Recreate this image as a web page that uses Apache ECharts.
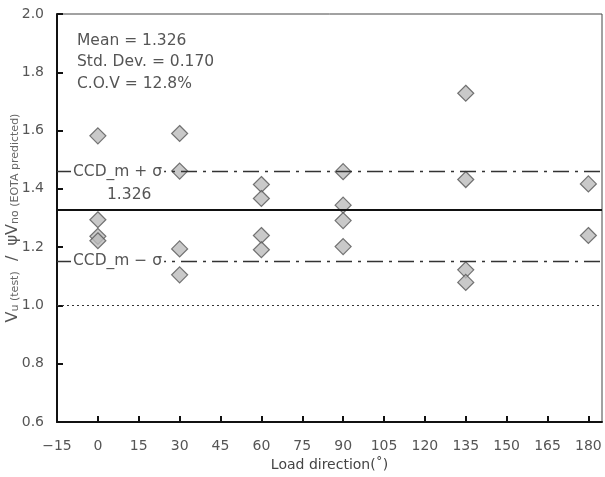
<!DOCTYPE html>
<html>
<head>
<meta charset="utf-8">
<script src="https://cdn.jsdelivr.net/npm/echarts@6/dist/echarts.min.js"></script>
<style>
  html, body { margin: 0; padding: 0; background: #fff; }
  #chart { width: 605px; height: 477px; }
</style>
</head>
<body>
<div id="chart"></div>
<script>
// load direction (deg) and ratio of test / predicted
const loadDir = [0, 0, 0, 0, 30, 30, 30, 30, 60, 60, 60, 60, 90, 90, 90, 90, 135, 135, 135, 135, 180, 180]
const ratio = [1.582, 1.294, 1.237, 1.222, 1.590, 1.461, 1.194, 1.105, 1.415, 1.367, 1.240, 1.191, 1.459, 1.344, 1.291, 1.202, 1.728, 1.432, 1.122, 1.079, 1.417, 1.240]
const meanVal = 1.326
const plusSigma = 1.458
const minusSigma = 1.154
const unityVal = 1.0
const statsText = ['Mean = 1.326', 'Std. Dev. = 0.170', 'C.O.V = 12.8%']

const font = 'DejaVu Sans, sans-serif'
const myChart = echarts.init(document.getElementById('chart'))

myChart.setOption({
  animation: false,
  grid: {
    left: 57,
    right: 3,
    top: 14,
    bottom: 55,
    outerBoundsMode: 'none',
    containLabel: false,
    show: true,
    borderColor: '#444',
    borderWidth: 1
  },
  xAxis: {
    type: 'value',
    min: -15,
    max: 185,
    interval: 15,
    name: 'Load direction(˚)',
    nameLocation: 'middle',
    nameGap: 36,
    nameMoveOverlap: false,
    nameTextStyle: { color: '#444', fontSize: 14, fontFamily: font },
    axisLine: { show: true, onZero: false, lineStyle: { color: '#111', width: 2 } },
    axisTick: { show: true, inside: true, length: 6, lineStyle: { color: '#111', width: 2 } },
    axisLabel: {
      color: '#555',
      fontSize: 14,
      fontFamily: font,
      margin: 17,
      showMaxLabel: false,
      formatter: (v) => (v < 0 ? '\u2212' + Math.abs(v) : v)
    },
    splitLine: { show: false }
  },
  yAxis: {
    type: 'value',
    min: 0.6,
    max: 2.0,
    interval: 0.2,
    name: '{v|V}{s|u (test)}{v|  /  ψV}{s|no (EOTA predicted)}',
    nameLocation: 'middle',
    nameRotate: 90,
    nameGap: 36,
    nameMoveOverlap: false,
    nameTextStyle: {
      color: '#555',
      fontFamily: font,
      rich: {
        v: { fontSize: 16, color: '#555', fontFamily: font },
        s: { fontSize: 11, color: '#666', fontFamily: font, verticalAlign: 'bottom', padding: [5, 0, 0, 0] }
      }
    },
    axisLine: { show: true, onZero: false, lineStyle: { color: '#111', width: 2 } },
    axisTick: { show: true, inside: true, length: 6, lineStyle: { color: '#111', width: 2 } },
    axisLabel: {
      color: '#555',
      fontSize: 14,
      fontFamily: font,
      margin: 13,
      formatter: (v) => v.toFixed(1)
    },
    splitLine: { show: false }
  },
  series: [
    {
      type: 'scatter',
      symbol: 'diamond',
      symbolSize: 16,
      itemStyle: { color: '#bbbbbb', borderColor: '#555', borderWidth: 1.2 },
      data: loadDir.map((x, i) => [x, ratio[i]]),
      z: 3,
      markLine: {
        silent: true,
        symbol: 'none',
        label: { show: false },
        data: [
          { yAxis: meanVal, lineStyle: { color: '#111', width: 2, type: 'solid' } },
          { yAxis: plusSigma, lineStyle: { color: '#333', width: 1.3, type: [16, 6, 3, 6] } },
          { yAxis: minusSigma, lineStyle: { color: '#333', width: 1.3, type: [16, 6, 3, 6] } },
          { yAxis: unityVal, lineStyle: { color: '#333', width: 1, type: [2, 3] } }
        ]
      }
    }
  ]
})

// annotations placed along the reference lines
const gridLeft = 57
const yPlus = myChart.convertToPixel({ yAxisIndex: 0 }, plusSigma)
const yMinus = myChart.convertToPixel({ yAxisIndex: 0 }, minusSigma)
const yMean = myChart.convertToPixel({ yAxisIndex: 0 }, meanVal)
const txt = { fill: '#555', fontSize: 15.5, fontFamily: font }

myChart.setOption({
  graphic: [
    {
      type: 'text',
      left: 77,
      top: 30,
      style: Object.assign({ text: statsText.join('\n'), lineHeight: 21.5 }, txt)
    },
    {
      type: 'text',
      x: gridLeft + 14,
      y: yPlus,
      z: 10,
      style: Object.assign({ text: 'CCD_m + σ', verticalAlign: 'middle', backgroundColor: '#fff', padding: [0, 2] }, txt)
    },
    {
      type: 'text',
      x: gridLeft + 50,
      y: yMean - 15,
      style: Object.assign({ text: meanVal.toFixed(3), verticalAlign: 'middle' }, txt)
    },
    {
      type: 'text',
      x: gridLeft + 14,
      y: yMinus,
      z: 10,
      style: Object.assign({ text: 'CCD_m − σ', verticalAlign: 'middle', backgroundColor: '#fff', padding: [0, 2] }, txt)
    }
  ]
})
</script>
</body>
</html>
